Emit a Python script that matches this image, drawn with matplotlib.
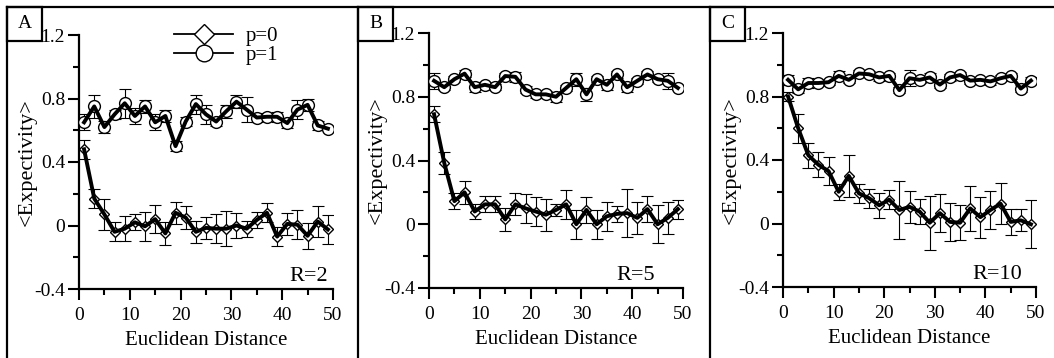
import matplotlib
matplotlib.use("Agg")
import matplotlib.pyplot as plt
from matplotlib.lines import Line2D
from matplotlib.patches import Rectangle

plt.rcParams['font.family'] = ['Liberation Serif', 'DejaVu Serif']
plt.rcParams['axes.unicode_minus'] = False

dist = [1, 3, 5, 7, 9, 11, 13, 15, 17, 19, 21, 23, 25, 27, 29, 31, 33, 35, 37, 39, 41, 43, 45, 47, 49]

# panel A, R=2
a_p0 = [0.48, 0.17, 0.07, -0.04, -0.02, 0.02, -0.005, 0.04, -0.05, 0.08, 0.05, -0.04, -0.015,
        -0.02, -0.02, 0.0, -0.02, 0.035, 0.08, -0.07, 0.01, 0.005, -0.065, 0.025, -0.025]
a_p0_err = [0.06, 0.06, 0.10, 0.06, 0.08, 0.05, 0.09, 0.09, 0.07, 0.07, 0.07, 0.07, 0.07,
            0.09, 0.11, 0.08, 0.05, 0.05, 0.06, 0.06, 0.07, 0.09, 0.08, 0.10, 0.09]
a_p1 = [0.65, 0.75, 0.62, 0.70, 0.77, 0.69, 0.75, 0.65, 0.69, 0.50, 0.655, 0.765, 0.70,
        0.655, 0.72, 0.78, 0.73, 0.68, 0.685, 0.685, 0.645, 0.73, 0.76, 0.63, 0.61]
a_p1_err = [0.05, 0.07, 0.04, 0.03, 0.09, 0.05, 0.04, 0.05, 0.04, 0.03, 0.03, 0.06, 0.06,
            0.03, 0.04, 0.04, 0.08, 0.03, 0.02, 0.03, 0.03, 0.06, 0.04, 0.03, 0.01]

# panel B, R=5
b_p0 = [0.69, 0.385, 0.145, 0.20, 0.08, 0.125, 0.125, 0.03, 0.125, 0.10, 0.08, 0.06, 0.09,
        0.125, 0.0, 0.09, 0.0, 0.05, 0.065, 0.07, 0.04, 0.095, 0.0, 0.04, 0.095]
b_p0_err = [0.05, 0.07, 0.05, 0.07, 0.05, 0.05, 0.05, 0.07, 0.07, 0.09, 0.09, 0.10, 0.04,
            0.09, 0.09, 0.08, 0.09, 0.09, 0.05, 0.15, 0.10, 0.08, 0.12, 0.10, 0.06]
b_p1 = [0.90, 0.86, 0.91, 0.945, 0.86, 0.875, 0.86, 0.93, 0.925, 0.845, 0.815, 0.815, 0.80,
        0.855, 0.91, 0.815, 0.91, 0.875, 0.94, 0.86, 0.90, 0.94, 0.91, 0.90, 0.855]
b_p1_err = [0.05, 0.02, 0.02, 0.02, 0.03, 0.02, 0.02, 0.02, 0.03, 0.02, 0.02, 0.02, 0.03,
            0.02, 0.04, 0.04, 0.02, 0.03, 0.02, 0.03, 0.02, 0.02, 0.02, 0.05, 0.01]

# panel C, R=10
c_p0 = [0.80, 0.60, 0.43, 0.37, 0.33, 0.20, 0.30, 0.19, 0.16, 0.115, 0.15, 0.085, 0.105,
        0.075, 0.005, 0.065, 0.01, 0.005, 0.095, 0.04, 0.085, 0.125, 0.01, 0.02, -0.005]
c_p0_err = [0.03, 0.09, 0.08, 0.08, 0.09, 0.05, 0.13, 0.06, 0.06, 0.08, 0.06, 0.18, 0.10,
            0.08, 0.17, 0.12, 0.12, 0.11, 0.14, 0.13, 0.12, 0.13, 0.08, 0.07, 0.15]
c_p1 = [0.905, 0.845, 0.885, 0.885, 0.89, 0.93, 0.905, 0.945, 0.94, 0.92, 0.93, 0.84, 0.915,
        0.905, 0.92, 0.875, 0.92, 0.935, 0.90, 0.905, 0.895, 0.915, 0.93, 0.85, 0.90]
c_p1_err = [0.03, 0.02, 0.03, 0.02, 0.02, 0.03, 0.02, 0.02, 0.02, 0.02, 0.02, 0.02, 0.05,
            0.02, 0.03, 0.02, 0.02, 0.02, 0.02, 0.02, 0.02, 0.02, 0.02, 0.02, 0.02]

panel_labels = ["A", "B", "C"]
r_labels = ["R=2", "R=5", "R=10"]
legend_labels = ["p=0", "p=1"]
yticks = [-0.4, 0, 0.4, 0.8, 1.2]
ytick_labels = ["-0.4", "0", "0.4", "0.8", "1.2"]
xticks = [0, 10, 20, 30, 40, 50]

W, H = 1054, 358
fig = plt.figure(figsize=(W / 100, H / 100), dpi=100)

# axes boxes in pixels: left, top, right, bottom
boxes = [(79, 35, 333, 289), (429, 33, 683, 288), (783, 33, 1036, 287)]
frame_x = [7, 358, 710]
r_pos = [0.98, 0.89, 0.945]
series = [(a_p0, a_p0_err, a_p1, a_p1_err),
          (b_p0, b_p0_err, b_p1, b_p1_err),
          (c_p0, c_p0_err, c_p1, c_p1_err)]

# outer frame lines
fig.add_artist(Line2D([7 / W, 1], [1 - 7 / H, 1 - 7 / H], color='black', lw=1.6,
                      transform=fig.transFigure))
for i in range(3):
    fx = frame_x[i]
    fig.add_artist(Line2D([fx / W, fx / W], [0, 1 - 7 / H], color='black', lw=1.6,
                          transform=fig.transFigure))
    fig.add_artist(Rectangle((fx / W, 1 - 41 / H), 35 / W, 34 / H, fill=False,
                             ec='black', lw=1.6, transform=fig.transFigure))
    fig.text((fx + 17.5) / W, 1 - 23 / H, panel_labels[i], ha='center', va='center',
             fontsize=14)

for i in range(3):
    l, t, r, b = boxes[i]
    ax = fig.add_axes([l / W, 1 - b / H, (r - l) / W, (b - t) / H])
    p0, p0e, p1, p1e = series[i]

    for y, ye, mk, ms in [(p1, p1e, 'o', 8.5), (p0, p0e, 'D', 5.5)]:
        ax.errorbar(dist, y, yerr=ye, fmt='none', ecolor='black', elinewidth=0.8,
                    capsize=4, capthick=0.8, zorder=2)
        ax.plot(dist, y, linestyle='none', marker=mk, ms=ms, mfc='white', mec='black',
                mew=1.0, zorder=3)
        ax.plot(dist, y, '-', color='black', lw=2.8, zorder=4)

    ax.set_xlim(0, 50)
    ax.set_ylim(-0.4, 1.2)
    ax.set_xticks(xticks)
    ax.set_xticks(range(5, 50, 10), minor=True)
    ax.set_yticks(yticks)
    ax.set_yticklabels(ytick_labels)
    ax.set_yticks([-0.2, 0.2, 0.6, 1.0], minor=True)
    ax.tick_params(which='major', direction='out', length=8, width=1.5, labelsize=14)
    ax.tick_params(which='minor', direction='out', length=4.5, width=1.5)
    ax.tick_params(axis='x', which='major', pad=5)
    ax.tick_params(axis='y', which='major', pad=2)
    ax.spines['top'].set_visible(False)
    ax.spines['right'].set_visible(False)
    ax.spines['left'].set_linewidth(1.6)
    ax.spines['bottom'].set_linewidth(1.6)
    ax.set_xlabel("Euclidean Distance", fontsize=15, labelpad=5)
    ax.set_ylabel("<Expectivity>", fontsize=16)
    ax.yaxis.set_label_coords(-42 / (r - l), 0.5)
    ax.text(r_pos[i], 0.03, r_labels[i], transform=ax.transAxes, ha='right',
            va='baseline', fontsize=16)
    ax.patch.set_alpha(0)

    if i == 0:
        handles = [Line2D([], [], color='black', lw=1.3, marker='D', ms=10, mfc='white',
                          mec='black', mew=1.0),
                   Line2D([], [], color='black', lw=1.3, marker='o', ms=12, mfc='white',
                          mec='black', mew=1.0)]
        ax.legend(handles, legend_labels, loc='upper left', frameon=False, fontsize=15,
                  bbox_to_anchor=(164 / W, 1 - 16 / H), bbox_transform=fig.transFigure,
                  handlelength=2.8, labelspacing=-0.02, borderpad=0, handletextpad=0.6)

fig.savefig("out.png", dpi=100)
